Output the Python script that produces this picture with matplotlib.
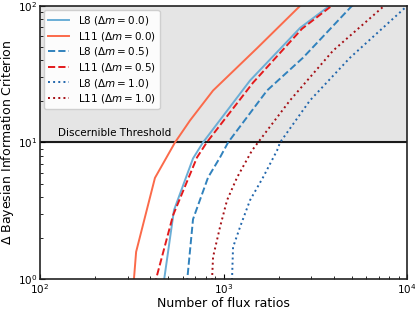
import numpy as np
import matplotlib.pyplot as plt

# curves: number of flux ratios vs delta BIC
l8_m00_n = [470, 537, 682, 773, 1394, 2613, 3664, 4200]
l8_m00_bic = [0.9, 3.19, 7.64, 10.0, 28.4, 69.0, 97.0, 120.0]

l11_m00_n = [323, 334, 423, 544, 657, 877, 1523, 2547, 2900]
l11_m00_bic = [0.9, 1.58, 5.5, 10.0, 14.5, 24.0, 49.0, 96.7, 115.0]

l8_m05_n = [630, 682, 824, 957, 1059, 1726, 2710, 4955, 5500]
l8_m05_bic = [0.9, 2.74, 5.55, 7.77, 10.0, 24.0, 41.7, 98.5, 110.0]

l11_m05_n = [420, 531, 717, 810, 1448, 2677, 3805, 4300]
l11_m05_bic = [0.9, 2.93, 7.77, 10.0, 27.4, 68.0, 98.0, 120.0]

l8_m10_n = [1110, 1127, 1230, 1394, 1642, 1958, 2033, 2958, 4887, 9886, 10500]
l8_m10_bic = [0.9, 1.71, 2.4, 3.77, 5.55, 8.74, 10.0, 20.3, 41.7, 98.5, 105.0]

l11_m10_n = [863, 877, 957, 1045, 1186, 1430, 1542, 2301, 3952, 7310, 8200]
l11_m10_bic = [0.9, 1.45, 2.4, 3.77, 5.55, 8.74, 10.0, 20.3, 47.0, 97.0, 110.0]

threshold = 10

fig = plt.figure(figsize=(4.15, 3.1), dpi=100)
ax = fig.add_axes([0.0964, 0.1, 0.8844, 0.881])

ax.axhspan(threshold, 100, color='#e5e5e5', zorder=0)
ax.axhline(threshold, color='#1a1a1a', lw=1.5, zorder=1)
ax.text(125, 10.7, 'Discernible Threshold', fontsize=7.5, ha='left', va='bottom')

ax.plot(l8_m00_n, l8_m00_bic, color='#6baed6', ls='-', lw=1.4, label=r'L8 ($\Delta m = 0.0$)')
ax.plot(l11_m00_n, l11_m00_bic, color='#fb6a4a', ls='-', lw=1.4, label=r'L11 ($\Delta m = 0.0$)')
ax.plot(l8_m05_n, l8_m05_bic, color='#3182bd', ls='--', lw=1.4, label=r'L8 ($\Delta m = 0.5$)')
ax.plot(l11_m05_n, l11_m05_bic, color='#e31a1c', ls='--', lw=1.4, label=r'L11 ($\Delta m = 0.5$)')
ax.plot(l8_m10_n, l8_m10_bic, color='#2166ac', ls=':', lw=1.4, label=r'L8 ($\Delta m = 1.0$)')
ax.plot(l11_m10_n, l11_m10_bic, color='#a50f15', ls=':', lw=1.4, label=r'L11 ($\Delta m = 1.0$)')

ax.set_xscale('log')
ax.set_yscale('log')
ax.set_xlim(100, 10000)
ax.set_ylim(1, 100)
ax.tick_params(which='both', direction='in', labelsize=7.5, pad=2)
ax.tick_params(which='major', length=3.5)
ax.tick_params(which='minor', length=2)
ax.set_xlabel('Number of flux ratios', fontsize=9, labelpad=1)
ax.set_ylabel(r'$\Delta$ Bayesian Information Criterion', fontsize=9, labelpad=1)
for s in ax.spines.values():
    s.set_linewidth(1.2)
    s.set_color('#222222')

ax.legend(loc='upper left', fontsize=7.5, framealpha=0.9, labelspacing=0.25,
          borderaxespad=0.4)

fig.savefig('out.png', dpi=100)
